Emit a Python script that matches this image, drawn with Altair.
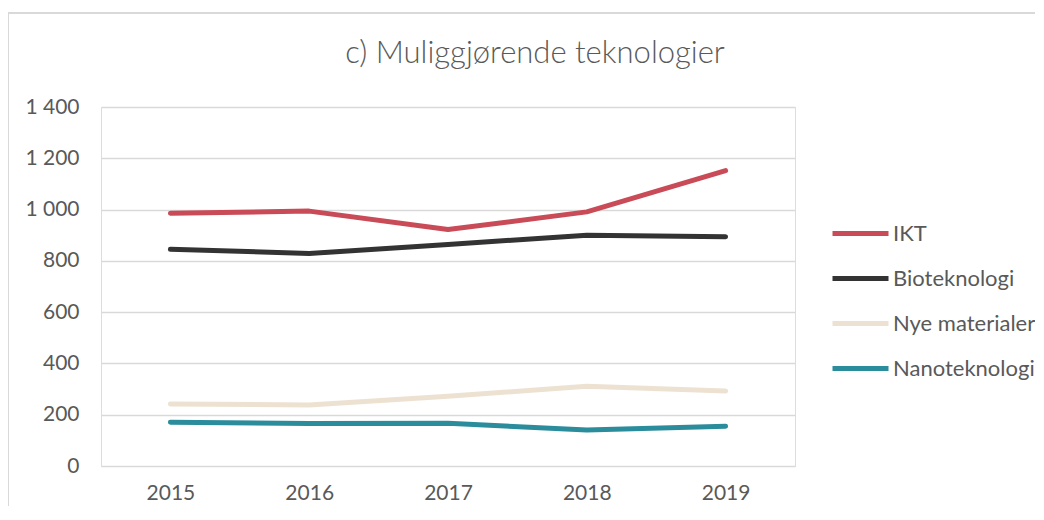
import altair as alt
import pandas as pd

years = ["2015", "2016", "2017", "2018", "2019"]
series_names = ["IKT", "Bioteknologi", "Nye materialer", "Nanoteknologi"]
ikt = [986, 994, 922, 991, 1152]
bio = [845, 829, 864, 900, 894]
nye = [242, 238, 272, 311, 292]
nano = [171, 166, 167, 140, 155]
colors = ["#C84B57", "#333333", "#EDE2D2", "#2B8C9B"]
y_ticks = [0, 200, 400, 600, 800, 1000, 1200, 1400]

rows = []
for name, vals in zip(series_names, [ikt, bio, nye, nano]):
    for yr, v in zip(years, vals):
        rows.append({"År": yr, "Verdi": v, "Serie": name})
df = pd.DataFrame(rows)

FONT = "Lato"
GREY = "#595959"

lines = alt.Chart(df).mark_line(strokeWidth=5, strokeCap="round", strokeJoin="round").encode(
    x=alt.X("År:O", scale=alt.Scale(type="point", padding=0.5),
            axis=alt.Axis(title=None, labelAngle=0, ticks=False, domain=False,
                          labelPadding=16, labelFontSize=21, labelColor=GREY, labelFont=FONT)),
    y=alt.Y("Verdi:Q", scale=alt.Scale(domain=[0, 1400], nice=False),
            axis=alt.Axis(title=None, values=y_ticks, ticks=False, domain=False,
                          labelPadding=22, labelFontSize=21, labelColor=GREY, labelFont=FONT,
                          gridColor="#D9D9D9", gridWidth=1.5,
                          labelExpr="replace(format(datum.value, ','), ',', ' ')")),
    color=alt.Color("Serie:N", sort=series_names,
                    scale=alt.Scale(domain=series_names, range=colors),
                    legend=alt.Legend(title=None, orient="none", legendX=743, legendY=110,
                                      symbolType="M-2,0H2", symbolSize=784,
                                      symbolStrokeWidth=5, labelOffset=16,
                                      labelFontSize=22, labelColor=GREY, labelFont=FONT,
                                      rowPadding=17, padding=0)),
    order=alt.Order("Serie:N"),
)

border_top = alt.Chart(df).mark_rule(color="#D9D9D9", strokeWidth=1.5).encode(
    x=alt.value(-93), x2=alt.value(1000), y=alt.value(-94))
border_left = alt.Chart(df).mark_rule(color="#D9D9D9", strokeWidth=1.5).encode(
    x=alt.value(-93), y=alt.value(-94), y2=alt.value(500))

chart = alt.layer(border_top, border_left, lines).properties(
    width=694, height=359,
    autosize=alt.AutoSizeParams(type="none"),
    padding={"left": 93, "top": 99, "right": 240, "bottom": 40},
    title=alt.TitleParams("c) Muliggjørende teknologier", fontSize=31, font=FONT,
                          fontWeight=300, color=GREY, anchor="middle", frame="group",
                          dx=87, offset=-89, baseline="bottom"),
).configure_view(stroke=None).configure(background="white")

chart.save("out.html", embed_options={"renderer": "svg", "actions": False})
